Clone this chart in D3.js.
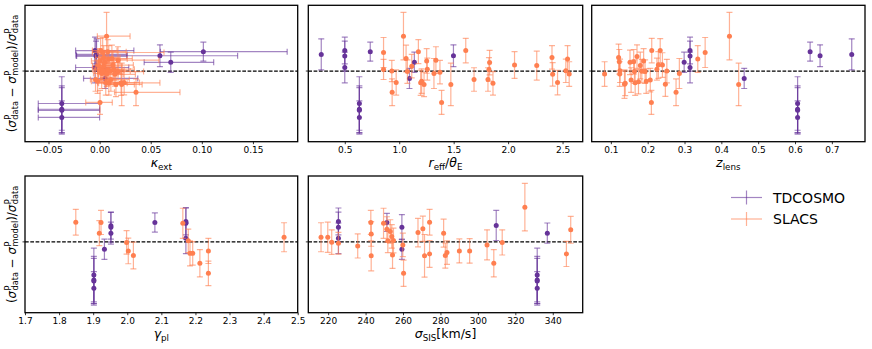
<!DOCTYPE html>
<html>
<head>
<meta charset="utf-8">
<script src="https://cdn.jsdelivr.net/npm/d3@7"></script>
<style>
  body { margin: 0; background: #fff; }
  svg { display: block; font-family: "DejaVu Sans", sans-serif; }
</style>
</head>
<body>
<div id="chart"></div>
<script>
// values; y = (sigma_data - sigma_model)/sigma_data
// rows: [x, y, yerr] (kappa panel adds xerrLow, xerrHigh)
const kappaTD = [
  [-0.037, -0.119, 0.098, 0.023, 0.037], [-0.037, -0.140, 0.086, 0.023, 0.037],
  [-0.037, -0.144, 0.083, 0.023, 0.037], [-0.037, -0.170, 0.061, 0.023, 0.037],
  [-0.0045, 0.075, 0.049, 0.019, 0.038], [-0.003, 0.061, 0.057, 0.020, 0.030],
  [-0.0035, 0.055, 0.055, 0.019, 0.030], [-0.0045, 0.013, 0.056, 0.019, 0.033],
  [0.0053, -0.027, 0.037, 0.021, 0.032], [0.1015, 0.071, 0.035, 0.042, 0.082],
  [0.059, 0.056, 0.040, 0.082, 0.076], [0.0696, 0.032, 0.037, 0.026, 0.042]
]
const kappaSL = [
  [0.003, 0.068, 0.055, 0.010, 0.060], [0.001, 0.006, 0.037, 0.008, 0.015],
  [0.010, 0.000, 0.039, 0.010, 0.020], [0.0356, -0.078, 0.049, 0.021, 0.043],
  [0.006, -0.042, 0.046, 0.008, 0.016], [0.0068, 0.128, 0.087, 0.009, 0.023],
  [0.012, 0.046, 0.049, 0.010, 0.020], [0.018, -0.002, 0.043, 0.012, 0.025],
  [0.004, 0.018, 0.043, 0.008, 0.018], [0.008, 0.071, 0.044, 0.010, 0.018],
  [0.021, -0.043, 0.046, 0.012, 0.038], [-0.002, -0.037, 0.045, 0.006, 0.012],
  [0.016, -0.049, 0.045, 0.010, 0.018], [0.000, 0.037, 0.045, 0.008, 0.014],
  [0.014, 0.007, 0.040, 0.010, 0.020], [0.002, -0.009, 0.055, 0.008, 0.016],
  [0.018, 0.040, 0.049, 0.012, 0.040], [0.006, -0.004, 0.043, 0.008, 0.015],
  [0.0004, -0.115, 0.044, 0.014, 0.012], [0.0216, -0.049, 0.078, 0.015, 0.020],
  [0.001, 0.075, 0.045, 0.008, 0.016], [0.011, -0.031, 0.043, 0.010, 0.018],
  [-0.004, -0.031, 0.043, 0.005, 0.012], [0.008, 0.006, 0.043, 0.010, 0.016],
  [0.005, 0.031, 0.045, 0.008, 0.015], [0.009, -0.045, 0.043, 0.010, 0.018],
  [0.013, 0.022, 0.049, 0.010, 0.020], [-0.001, 0.020, 0.053, 0.006, 0.012],
  [0.004, 0.050, 0.043, 0.008, 0.016], [0.015, -0.012, 0.043, 0.010, 0.020],
  [0.024, -0.042, 0.045, 0.010, 0.015], [0.003, 0.001, 0.043, 0.008, 0.014],
  [0.009, 0.044, 0.049, 0.010, 0.018], [0.007, -0.011, 0.045, 0.008, 0.016]
]
const reffTD = [
  [0.284, 0.061, 0.057], [0.5, 0.075, 0.049], [0.5, 0.055, 0.055], [0.5, 0.013, 0.056],
  [0.634, -0.119, 0.098], [0.634, -0.140, 0.086], [0.634, -0.144, 0.083], [0.634, -0.170, 0.061],
  [0.734, 0.071, 0.035], [1.094, -0.027, 0.037], [1.139, 0.032, 0.037], [1.498, 0.056, 0.040]
]
const reffSL = [
  [0.856, 0.068, 0.055], [0.856, 0.006, 0.037], [0.932, 0.000, 0.039], [0.935, -0.078, 0.049],
  [0.972, -0.042, 0.046], [1.039, 0.128, 0.087], [1.063, 0.046, 0.049], [1.075, -0.002, 0.043],
  [1.115, 0.018, 0.043], [1.176, 0.071, 0.044], [1.197, -0.043, 0.046], [1.206, -0.037, 0.045],
  [1.228, -0.049, 0.045], [1.252, 0.037, 0.045], [1.258, 0.007, 0.040], [1.319, -0.009, 0.055],
  [1.337, 0.040, 0.049], [1.374, -0.004, 0.043], [1.389, -0.115, 0.044], [1.474, -0.049, 0.078],
  [1.611, 0.075, 0.045], [1.687, -0.031, 0.043], [1.815, -0.031, 0.043], [1.824, 0.006, 0.043],
  [1.830, 0.031, 0.045], [1.861, -0.045, 0.043], [2.059, 0.022, 0.049], [2.263, 0.020, 0.053],
  [2.403, 0.050, 0.043], [2.409, -0.012, 0.043], [2.454, -0.042, 0.045], [2.530, 0.001, 0.043],
  [2.546, 0.044, 0.049], [2.561, -0.011, 0.045]
]
const zlensTD = [
  [0.299, 0.032, 0.037], [0.315, 0.075, 0.049], [0.315, 0.055, 0.055], [0.315, 0.013, 0.056],
  [0.462, -0.027, 0.037], [0.607, -0.119, 0.098], [0.607, -0.140, 0.086], [0.607, -0.144, 0.083],
  [0.607, -0.170, 0.061], [0.641, 0.071, 0.035], [0.668, 0.056, 0.040], [0.754, 0.061, 0.057]
]
const zlensSL = [
  [0.083, -0.011, 0.045], [0.121, 0.050, 0.049], [0.123, 0.034, 0.045], [0.124, -0.011, 0.045],
  [0.125, 0.001, 0.043], [0.137, -0.048, 0.052], [0.139, -0.045, 0.045], [0.152, 0.032, 0.045],
  [0.155, -0.033, 0.045], [0.162, 0.034, 0.045], [0.164, -0.002, 0.043], [0.166, -0.043, 0.046],
  [0.171, 0.053, 0.043], [0.175, -0.039, 0.045], [0.180, 0.020, 0.049], [0.184, 0.000, 0.043],
  [0.189, 0.037, 0.045], [0.193, -0.002, 0.043], [0.196, -0.037, 0.045], [0.207, -0.033, 0.043],
  [0.210, -0.115, 0.044], [0.211, 0.075, 0.045], [0.225, 0.007, 0.040], [0.229, 0.022, 0.049],
  [0.234, 0.075, 0.044], [0.240, 0.022, 0.045], [0.248, -0.048, 0.045], [0.252, 0.000, 0.043],
  [0.277, -0.078, 0.049], [0.286, -0.009, 0.055], [0.336, 0.044, 0.049], [0.356, 0.068, 0.055],
  [0.422, 0.128, 0.087], [0.447, -0.049, 0.078]
]
const gammaTD = [
  [1.902, -0.121, 0.098], [1.902, -0.139, 0.086], [1.902, -0.143, 0.083], [1.902, -0.170, 0.061],
  [1.933, -0.027, 0.037], [1.952, 0.059, 0.049], [1.952, 0.054, 0.055], [1.952, 0.032, 0.040],
  [2.081, 0.071, 0.035], [2.172, 0.075, 0.049], [2.172, 0.068, 0.057], [2.172, 0.013, 0.056]
]
const gammaSL = [
  [1.849, 0.072, 0.047], [1.918, 0.032, 0.046], [1.923, 0.071, 0.044], [1.998, -0.002, 0.043],
  [2.003, -0.033, 0.047], [2.018, -0.050, 0.049], [2.163, 0.068, 0.055], [2.179, 0.004, 0.043],
  [2.184, -0.042, 0.046], [2.192, -0.042, 0.043], [2.213, -0.078, 0.050], [2.238, -0.033, 0.046],
  [2.238, -0.115, 0.045], [2.460, 0.017, 0.053]
]
const sigmaTD = [
  [225.5, 0.075, 0.049], [225.5, 0.054, 0.055], [225.5, 0.013, 0.056], [251.4, 0.071, 0.033],
  [259.4, 0.054, 0.046], [259.4, -0.027, 0.037], [309.8, 0.060, 0.055], [331.7, -0.121, 0.098],
  [331.7, -0.139, 0.086], [331.7, -0.143, 0.083], [331.7, -0.170, 0.061], [337.1, 0.032, 0.037]
]
const sigmaSL = [
  [216.2, 0.017, 0.053], [219.8, 0.017, 0.055], [221.9, -0.001, 0.045], [225.5, -0.005, 0.040],
  [235.8, -0.015, 0.044], [242.8, 0.071, 0.044], [243.0, 0.029, 0.045], [243.0, -0.051, 0.055],
  [249.6, 0.068, 0.055], [251.4, 0.046, 0.046], [251.9, 0.004, 0.043], [253.2, 0.038, 0.043],
  [254.0, 0.020, 0.043], [254.4, -0.048, 0.049], [254.9, 0.005, 0.045], [259.9, -0.011, 0.043],
  [260.3, -0.115, 0.048], [268.0, 0.034, 0.052], [270.6, 0.048, 0.046], [271.5, -0.051, 0.078],
  [274.2, 0.072, 0.047], [274.2, -0.044, 0.049], [281.7, 0.032, 0.051], [282.6, -0.050, 0.046],
  [283.5, -0.039, 0.043], [290.1, -0.033, 0.044], [295.6, -0.033, 0.045], [304.9, -0.011, 0.055],
  [308.5, -0.078, 0.050], [313.0, -0.002, 0.046], [325.1, 0.127, 0.087], [347.3, -0.044, 0.046],
  [349.6, 0.044, 0.049]
]
const seriesNames = ['TDCOSMO', 'SLACS']

const width = 872, height = 349
const tdColor = '#663399', slColor = '#ff7f50'
const yDomain = [-0.259, 0.241]

const panels = [
  { td: kappaTD, sl: kappaSL, xerr: true, x0: 25, x1: 297.7, row: 0, domain: [-0.073, 0.1938],
    ticks: [-0.05, 0, 0.05, 0.10, 0.15], fmt: '.2f', label: [['κ', 'i'], ['ext', 'sub']] },
  { td: reffTD, sl: reffSL, x0: 308.3, x1: 582.7, row: 0, domain: [0.165, 2.685],
    ticks: [0.5, 1.0, 1.5, 2.0, 2.5], fmt: '.1f', label: [['r', 'i'], ['eff', 'sub'], ['/', 'n'], ['θ', 'i'], ['E', 'sub']] },
  { td: zlensTD, sl: zlensSL, x0: 591.7, x1: 865, row: 0, domain: [0.048, 0.790],
    ticks: [0.1, 0.2, 0.3, 0.4, 0.5, 0.6, 0.7], fmt: '.1f', label: [['z', 'i'], ['lens', 'sub']] },
  { td: gammaTD, sl: gammaSL, x0: 25, x1: 297.7, row: 1, domain: [1.7, 2.5],
    ticks: [1.7, 1.8, 1.9, 2.0, 2.1, 2.2, 2.3, 2.4, 2.5], fmt: '.1f', label: [['γ', 'i'], ['pl', 'sub']] },
  { td: sigmaTD, sl: sigmaSL, x0: 308.3, x1: 582.7, row: 1, domain: [209.4, 356],
    ticks: [220, 240, 260, 280, 300, 320, 340], fmt: '.0f', label: [['σ', 'i'], ['SIS', 'sub'], ['[km/s]', 'n']] }
]
const rows = [[5.3, 141.7], [176, 312.7]]

const svg = d3.select('#chart').append('svg')
  .attr('width', width).attr('height', height)

// math-ish text: parts are [text, kind, dx] with kind i (italic), n (normal), sub, sup
function mathText(sel, parts, size) {
  let shift = 0
  parts.forEach(p => {
    const [t, kind] = p
    const ts = sel.append('tspan').text(t)
    let target = 0
    if (kind === 'sub') { target = size * 0.24; ts.attr('font-size', size * 0.7) }
    else if (kind === 'sup') { target = -size * 0.42; ts.attr('font-size', size * 0.7) }
    if (kind === 'i') ts.attr('font-style', 'italic')
    if (p[2] !== undefined) ts.attr('dx', p[2])
    ts.attr('dy', target - shift)
    shift = target
  })
}

function sigmaTerm(sub, size) {
  // sigma with stacked super "P" and subscript
  return [['σ', 'i'], ['P', 'sup', 0.5], [sub, 'sub', -size * 0.7 * 0.6]]
}

panels.forEach(p => {
  const [top, bottom] = rows[p.row]
  const x = d3.scaleLinear().domain(p.domain).range([p.x0, p.x1])
  const y = d3.scaleLinear().domain(yDomain).range([bottom, top])
  const g = svg.append('g')

  const clipId = 'clip' + Math.round(p.x0) + '_' + p.row
  g.append('clipPath').attr('id', clipId).append('rect')
    .attr('x', p.x0).attr('y', top).attr('width', p.x1 - p.x0).attr('height', bottom - top)
  const plot = g.append('g').attr('clip-path', `url(#${clipId})`)

  plot.append('line')
    .attr('x1', p.x0).attr('x2', p.x1).attr('y1', y(0)).attr('y2', y(0))
    .attr('stroke', '#000').attr('stroke-width', 1.2).attr('stroke-dasharray', '3.7,1.6')

  const drawSeries = (data, color) => {
    const bars = plot.append('g').attr('stroke', color).attr('stroke-opacity', 0.6)
      .attr('stroke-width', 1.2).attr('fill', 'none')
    data.forEach(d => {
      const cx = x(d[0]), cy = y(d[1])
      const ylo = y(d[1] - d[2]), yhi = y(d[1] + d[2])
      bars.append('line').attr('x1', cx).attr('x2', cx).attr('y1', ylo).attr('y2', yhi)
      bars.append('line').attr('x1', cx - 3).attr('x2', cx + 3).attr('y1', ylo).attr('y2', ylo)
      bars.append('line').attr('x1', cx - 3).attr('x2', cx + 3).attr('y1', yhi).attr('y2', yhi)
      if (p.xerr) {
        const xl = x(d[0] - d[3]), xh = x(d[0] + d[4])
        bars.append('line').attr('x1', xl).attr('x2', xh).attr('y1', cy).attr('y2', cy)
        bars.append('line').attr('x1', xl).attr('x2', xl).attr('y1', cy - 3).attr('y2', cy + 3)
        bars.append('line').attr('x1', xh).attr('x2', xh).attr('y1', cy - 3).attr('y2', cy + 3)
      }
    })
    plot.append('g').selectAll('circle').data(data).join('circle')
      .attr('cx', d => x(d[0])).attr('cy', d => y(d[1])).attr('r', 2.5)
      .attr('fill', color)
  }
  drawSeries(p.td, tdColor)
  drawSeries(p.sl, slColor)

  // x axis
  const fmt = d3.format(p.fmt)
  const ax = g.append('g').attr('transform', `translate(0,${bottom})`)
    .call(d3.axisBottom(x).tickValues(p.ticks).tickFormat(fmt).tickSize(2.5).tickPadding(2.5))
  ax.select('.domain').remove()
  ax.selectAll('.tick line').attr('stroke-width', 0.8)
  ax.selectAll('.tick text').attr('font-size', 9).attr('font-family', '"DejaVu Sans", sans-serif')

  // unlabeled y tick at zero
  g.append('line').attr('x1', p.x0 - 2.5).attr('x2', p.x0).attr('y1', y(0)).attr('y2', y(0))
    .attr('stroke', '#000').attr('stroke-width', 0.8)

  g.append('rect').attr('x', p.x0).attr('y', top)
    .attr('width', p.x1 - p.x0).attr('height', bottom - top)
    .attr('fill', 'none').attr('stroke', '#000').attr('stroke-width', 1.3)

  const lab = g.append('text').attr('x', (p.x0 + p.x1) / 2).attr('y', bottom + 25)
    .attr('text-anchor', 'middle').attr('font-size', 12.5)
  mathText(lab, p.label, 12.5)

  if (p.x0 === 25) {
    const fs = 11.8
    const yl = g.append('text')
      .attr('transform', `translate(15.5,${(top + bottom) / 2}) rotate(-90)`)
      .attr('text-anchor', 'middle').attr('font-size', fs)
    mathText(yl, [['(', 'n'], ...sigmaTerm('data', fs), [' − ', 'n'], ...sigmaTerm('model', fs),
      [')/', 'n'], ...sigmaTerm('data', fs)], fs)
  }
})

// legend
const legend = svg.append('g')
seriesNames.forEach((name, i) => {
  const cy = 197.5 + i * 21.5
  const c = i === 0 ? tdColor : slColor
  legend.append('line').attr('x1', 731).attr('x2', 762).attr('y1', cy).attr('y2', cy)
    .attr('stroke', c).attr('stroke-opacity', 0.6).attr('stroke-width', 1.2)
  legend.append('line').attr('x1', 746.5).attr('x2', 746.5).attr('y1', cy - 7).attr('y2', cy + 7)
    .attr('stroke', c).attr('stroke-opacity', 0.6).attr('stroke-width', 1.2)
  legend.append('text').attr('x', 773).attr('y', cy + 5).attr('font-size', 14).text(name)
})
</script>
</body>
</html>
